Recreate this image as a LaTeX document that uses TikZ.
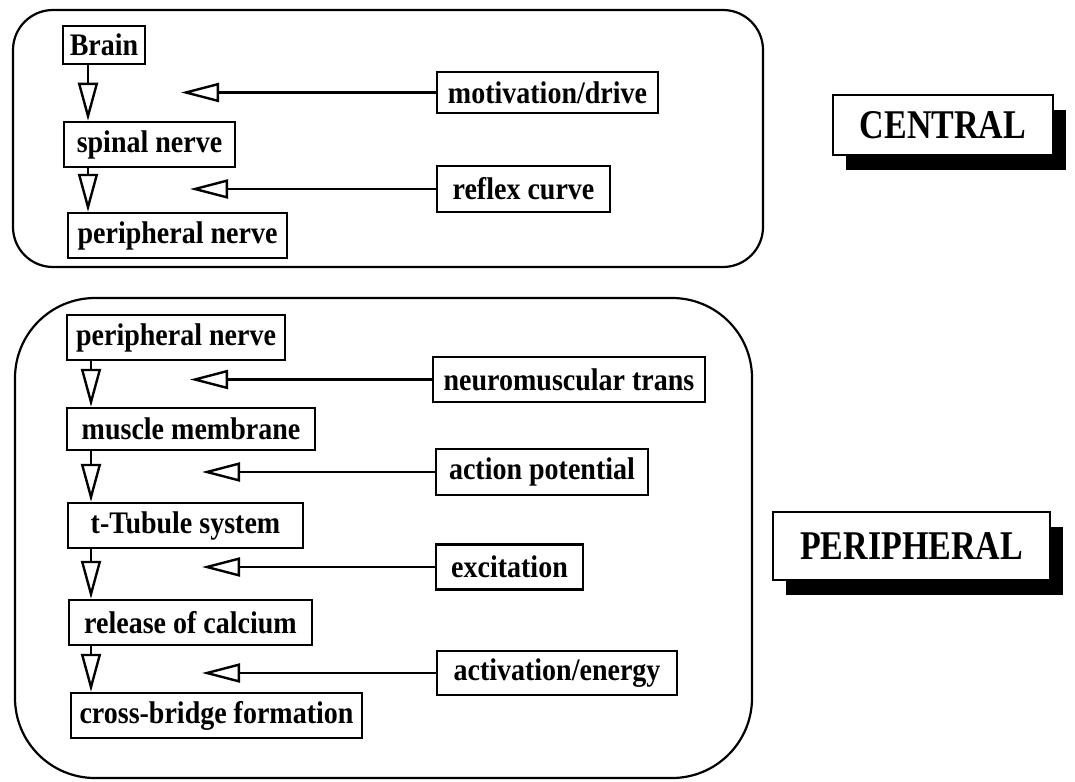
\documentclass[tikz,border=0pt]{standalone}
\usepackage{fontspec}
\usepackage{graphicx}
\setmainfont{Liberation Serif}
\usetikzlibrary{arrows.meta,shadows}
\newcommand{\tallt}[1]{\scalebox{1}[1.12]{#1}}
\newcommand{\tallb}[1]{\scalebox{1}[1.2]{#1}}
\begin{document}
\begin{tikzpicture}[x=1pt,y=-1pt,
  box/.style={draw, line width=2.5pt, fill=white, inner sep=0pt, font=\fontsize{28}{30}\selectfont\bfseries},
  big/.style={box, font=\fontsize{34}{36}\selectfont\bfseries,
    drop shadow={fill=black,opacity=1,shadow xshift=13pt,shadow yshift=-15pt}},
  group/.style={draw, line width=2.2pt},
  varrow/.style={line width=2.4pt, -{Triangle[open,length=38pt,width=20pt]}},
  harrow/.style={line width=2.4pt, -{Triangle[open,length=38pt,width=19pt]}}
]
\useasboundingbox (0,0) rectangle (1075,781);

% group frames
\draw[group, rounded corners=40pt] (13,10) rectangle (763,267);
\draw[group, rounded corners=80pt] (15,298) rectangle (752,778);

% central chain
\node[box, minimum width=82pt, minimum height=38pt] (brain) at (104,45) {\tallt{Brain}};
\node[box, minimum width=171pt, minimum height=45pt] (spinal) at (149.5,144.5) {\tallt{spinal nerve}};
\node[box, minimum width=219pt, minimum height=45pt] (pn1) at (177.5,235.5) {\tallt{peripheral nerve}};
\node[box, minimum width=221pt, minimum height=41pt] (motiv) at (547.5,92.5) {\tallt{motivation/drive}};
\node[box, minimum width=173pt, minimum height=46pt] (reflex) at (523.5,189) {\tallt{reflex curve}};

\coordinate (xa) at (88,0);
\draw[varrow] (brain.south -| xa) -- (spinal.north -| xa);
\draw[varrow] (spinal.south -| xa) -- (pn1.north -| xa);
\coordinate (ta) at (181,0);
\coordinate (tb) at (190,0);
\draw[harrow] (motiv.west) -- (motiv.west -| ta);
\draw[harrow] (reflex.west) -- (reflex.west -| tb);

% peripheral chain
\node[box, minimum width=218pt, minimum height=45pt] (pn2) at (176,337.5) {\tallt{peripheral nerve}};
\node[box, minimum width=248pt, minimum height=42pt] (muscle) at (191,429) {\tallt{muscle membrane}};
\node[box, minimum width=235pt, minimum height=45pt] (ttub) at (185.5,525.5) {\tallt{t-Tubule system}};
\node[box, minimum width=243pt, minimum height=45pt] (calc) at (190.5,622.5) {\tallt{release of calcium}};
\node[box, minimum width=291pt, minimum height=45pt] (cross) at (216.5,715.5) {\tallt{cross-bridge formation}};

\node[box, minimum width=272pt, minimum height=45pt] (neuro) at (569,379.5) {\tallt{neuromuscular trans}};
\node[box, minimum width=212pt, minimum height=46pt] (action) at (542,472) {\tallt{action potential}};
\node[box, minimum width=147pt, minimum height=45pt] (excit) at (509.5,567) {\tallt{excitation}};
\node[box, minimum width=240pt, minimum height=44pt] (activ) at (557,673) {\tallt{activation/energy}};

\coordinate (xb) at (91,0);
\draw[varrow] (pn2.south -| xb) -- (muscle.north -| xb);
\draw[varrow] (muscle.south -| xb) -- (ttub.north -| xb);
\draw[varrow] (ttub.south -| xb) -- (calc.north -| xb);
\draw[varrow] (calc.south -| xb) -- (cross.north -| xb);
\coordinate (tc) at (190,0);
\coordinate (td) at (202,0);
\draw[harrow] (neuro.west) -- (neuro.west -| tc);
\draw[harrow] (action.west) -- (action.west -| td);
\draw[harrow] (excit.west) -- (excit.west -| td);
\draw[harrow] (activ.west) -- (activ.west -| td);

% labels
\node[big, minimum width=220pt, minimum height=60pt] (central) at (943,125) {\tallb{CENTRAL}};
\node[big, minimum width=277pt, minimum height=68pt] (periph) at (911.5,546) {\tallb{PERIPHERAL}};
\end{tikzpicture}
\end{document}
